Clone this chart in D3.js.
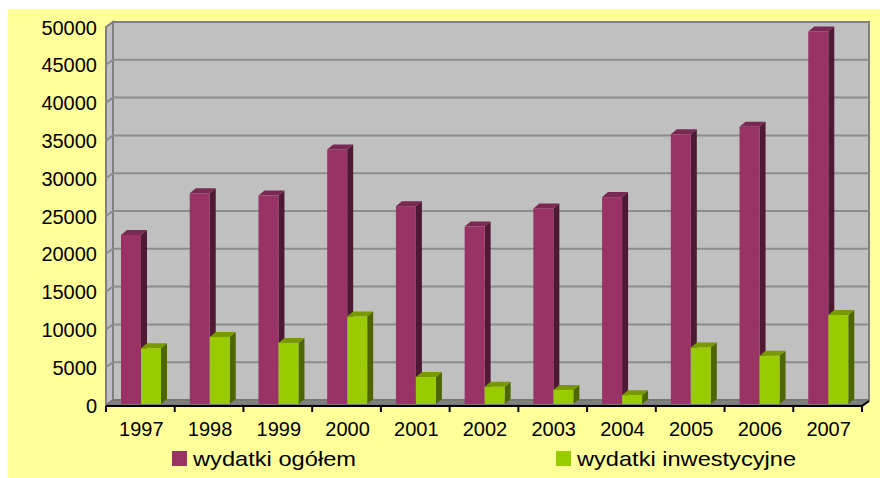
<!DOCTYPE html>
<html>
<head>
<meta charset="utf-8">
<script src="https://cdn.jsdelivr.net/npm/d3@7"></script>
<style>
  body { margin: 0; background: #fff; }
  svg text { font-family: "Liberation Sans", Arial, sans-serif; fill: #000; }
</style>
</head>
<body>
<div id="chart"></div>
<script>
// data
var years = ['1997', '1998', '1999', '2000', '2001', '2002', '2003', '2004', '2005', '2006', '2007'];
var wydatkiOgolem = [22500, 28000, 27700, 33800, 26300, 23600, 26000, 27500, 35800, 36800, 49400];
var wydatkiInwestycyjne = [7500, 9000, 8200, 11700, 3700, 2400, 2000, 1300, 7600, 6500, 11900];
var seriesNames = ['wydatki ogółem', 'wydatki inwestycyjne'];
var yTicks = [0, 5000, 10000, 15000, 20000, 25000, 30000, 35000, 40000, 45000, 50000];

var colors = [
    { front: '#993366', side: '#4d1933', top: '#7a2952' },
    { front: '#99cc00', side: '#4d6600', top: '#7a9900' }
];

var W = 880, H = 478;
var depthX = 7, depthY = -5;     // offset of the back wall
var barDX = 6, barDY = -5;       // depth of a bar

var svg = d3.select('#chart').append('svg').attr('width', W).attr('height', H);

svg.append('rect').attr('x', 8).attr('y', 9).attr('width', W - 8).attr('height', H - 9).attr('fill', '#ffff99');

var x0 = d3.scaleBand().domain(years).range([106, 862]);
var x1 = d3.scaleBand().domain(seriesNames).range([15, 55]);
var y = d3.scaleLinear().domain([0, 50000]).range([405, 27]);

var left = x0.range()[0], right = x0.range()[1];

// back wall
svg.append('rect')
    .attr('x', left + depthX).attr('y', y(50000) + depthY)
    .attr('width', right - left)
    .attr('height', y(0) - y(50000))
    .attr('fill', '#c0c0c0').attr('stroke', '#808080').attr('stroke-width', 2);

// side wall
svg.append('path')
    .attr('d', 'M' + left + ',' + y(0) + ' L' + left + ',' + y(50000) + ' L' + (left + depthX) + ',' + (y(50000) + depthY) +
        ' L' + (left + depthX) + ',' + (y(0) + depthY) + 'Z')
    .attr('fill', '#c0c0c0').attr('stroke', '#808080').attr('stroke-width', 2);

// floor
svg.append('path')
    .attr('d', 'M' + left + ',' + y(0) + ' L' + (left + depthX) + ',' + (y(0) + depthY) + ' L' + (right + depthX) + ',' + (y(0) + depthY) +
        ' L' + right + ',' + y(0) + 'Z')
    .attr('fill', '#808080').attr('stroke', '#6e6e6e').attr('stroke-width', 1);

// gridlines
var grid = svg.append('g');
grid.selectAll('path')
    .data(yTicks.filter(function(d) { return d > 0 && d < 50000; }))
    .enter()
    .append('path')
    .attr('d', function(d) {
        return 'M' + left + ',' + y(d) + ' L' + (left + depthX) + ',' + (y(d) + depthY) + ' L' + (right + depthX) + ',' + (y(d) + depthY);
    })
    .attr('fill', 'none').attr('stroke', '#8c8c8c').attr('stroke-width', 2);

// bars
var rows = years.map(function(yr, i) {
    return { year: yr, values: [wydatkiOgolem[i], wydatkiInwestycyjne[i]] };
});

var groups = svg.append('g').selectAll('g')
    .data(rows)
    .enter()
    .append('g')
    .attr('transform', function(d) { return 'translate(' + x0(d.year) + ',0)'; });

var bars = groups.selectAll('g')
    .data(function(d) {
        return d.values.map(function(v, j) { return { name: seriesNames[j], value: v, c: colors[j] }; });
    })
    .enter()
    .append('g');

bars.append('path')
    .attr('d', function(d) {
        var bx = x1(d.name) + x1.bandwidth(), ty = y(d.value), by = y(0) - 1;
        return 'M' + bx + ',' + ty + ' L' + (bx + barDX) + ',' + (ty + barDY) + ' L' + (bx + barDX) + ',' + (by + barDY) + ' L' + bx + ',' + by + 'Z';
    })
    .attr('fill', function(d) { return d.c.side; });

bars.append('path')
    .attr('d', function(d) {
        var bx = x1(d.name), w = x1.bandwidth(), ty = y(d.value);
        return 'M' + bx + ',' + ty + ' L' + (bx + barDX) + ',' + (ty + barDY) + ' L' + (bx + w + barDX) + ',' + (ty + barDY) + ' L' + (bx + w) + ',' + ty + 'Z';
    })
    .attr('fill', function(d) { return d.c.top; });

bars.append('rect')
    .attr('x', function(d) { return x1(d.name); })
    .attr('y', function(d) { return y(d.value); })
    .attr('width', x1.bandwidth())
    .attr('height', function(d) { return y(0) - 1 - y(d.value); })
    .attr('fill', function(d) { return d.c.front; });

// x axis line with ticks at the category borders
var edges = years.map(function(d) { return x0(d); }).concat([right]);
var axisPath = 'M' + left + ',' + (y(0) + 1) + ' L' + right + ',' + (y(0) + 1) + ' L' + (right + depthX) + ',' + (y(0) + 1 + depthY);
svg.append('path').attr('d', axisPath).attr('fill', 'none').attr('stroke', '#000').attr('stroke-width', 2);
svg.append('g').selectAll('line')
    .data(edges)
    .enter()
    .append('line')
    .attr('x1', function(d) { return d; }).attr('x2', function(d) { return d; })
    .attr('y1', y(0) + 1).attr('y2', y(0) + 7)
    .attr('stroke', '#000').attr('stroke-width', 2);

svg.append('g').selectAll('text')
    .data(years)
    .enter()
    .append('text')
    .attr('x', function(d) { return x0(d) + x0.bandwidth() / 2 + 1; })
    .attr('y', 436)
    .attr('text-anchor', 'middle')
    .attr('font-size', '20px')
    .text(function(d) { return d; });

// y axis labels
var yAxis = d3.axisLeft(y).tickValues(yTicks).tickSize(0).tickPadding(0).tickFormat(d3.format('d'));
var yg = svg.append('g').attr('transform', 'translate(97,0)').call(yAxis);
yg.select('.domain').remove();
yg.selectAll('text').attr('font-size', '20px').attr('font-family', '"Liberation Sans", Arial, sans-serif').attr('fill', '#000').attr('dy', '0.35em');

// legend
var legendX = [172, 556];
var legendLen = [163, 219];
var legend = svg.append('g').selectAll('g')
    .data(seriesNames)
    .enter()
    .append('g')
    .attr('transform', function(d, i) { return 'translate(' + legendX[i] + ',451)'; });
legend.append('rect').attr('width', 15).attr('height', 15).attr('fill', function(d, i) { return colors[i].front; });
legend.append('text')
    .attr('x', 21).attr('y', 15)
    .attr('font-size', '21px')
    .attr('textLength', function(d, i) { return legendLen[i]; })
    .attr('lengthAdjust', 'spacingAndGlyphs')
    .text(function(d) { return d; });
</script>
</body>
</html>
